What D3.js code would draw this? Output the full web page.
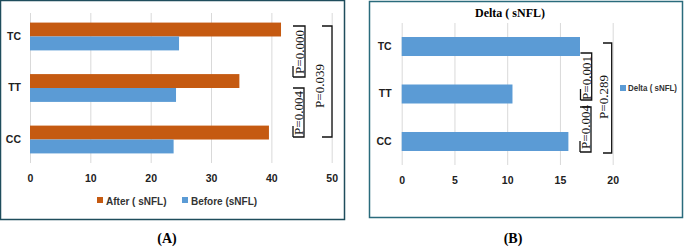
<!DOCTYPE html>
<html>
<head>
<meta charset="utf-8">
<script src="https://cdn.jsdelivr.net/npm/d3@7"></script>
<style>
  body { margin: 0; background: #fff; }
  svg text { font-family: "Liberation Sans", Arial, sans-serif; }
  .tick text { font-weight: bold; font-size: 10.5px; fill: #222; }
  .serif { font-family: "Liberation Serif", "Times New Roman", serif !important; }
</style>
</head>
<body>
<div id="here"></div>
<script>
// DATA
const categories = ["TC", "TT", "CC"];
const afterVals = [41.6, 34.7, 39.6];
const beforeVals = [24.7, 24.2, 23.8];
const deltaVals = [16.9, 10.5, 15.8];
const ticksA = [0, 10, 20, 30, 40, 50];
const ticksB = [0, 5, 10, 15, 20];
const pLabelsA = ["P=0.000", "P=0.004", "P=0.039"];
const pLabelsB = ["P=0.001", "P=0.004", "P=0.289"];

const orange = "#c55a11";
const blue = "#5b9bd5";
const grid = "#d9d9d9";

const svg = d3.select("#here").append("svg")
  .attr("width", 685)
  .attr("height", 249);

// frames
svg.append("rect").attr("x", 0.5).attr("y", 0.5).attr("width", 344).attr("height", 219)
  .attr("fill", "none").attr("stroke", "#1f4d5c").attr("stroke-width", 1.5);
svg.append("rect").attr("x", 369.5).attr("y", 1.5).attr("width", 313).attr("height", 216)
  .attr("fill", "none").attr("stroke", "#2a6b7c").attr("stroke-width", 1.5);

// draws a "]" style bracket with its p-value rotated alongside
function bracket(g, xr, xl, y0, y1, label, tx, ty, leftPart) {
  g.append("path")
    .attr("d", `M${xl},${y0}H${xr}V${y1}H${xl}`)
    .attr("fill", "none").attr("stroke", "#111").attr("stroke-width", 1.3);
  if (leftPart) {
    g.append("path")
      .attr("d", `M${xl},${y1 - 11}V${y1}`)
      .attr("fill", "none").attr("stroke", "#111").attr("stroke-width", 1.3);
  }
  g.append("text")
    .attr("class", "serif")
    .attr("transform", `translate(${tx},${ty}) rotate(-90)`)
    .attr("text-anchor", "middle")
    .attr("dy", "0.35em")
    .attr("font-size", 13)
    .attr("fill", "#111")
    .text(label);
}

// ---------- PANEL A ----------
const xA = d3.scaleLinear().domain([0, 50]).range([30, 331.7]);
const yA = d3.scaleBand().domain(categories).range([13, 163])
  .paddingInner(0.46).paddingOuter(0.186);

const gA = svg.append("g");
gA.append("g")
  .attr("transform", "translate(0,163)")
  .call(d3.axisBottom(xA).tickValues(ticksA).tickSize(-150).tickPadding(12))
  .call(g => g.select(".domain").remove())
  .call(g => g.selectAll(".tick line").attr("stroke", grid));
gA.append("g")
  .attr("transform", "translate(30,0)")
  .call(d3.axisLeft(yA).tickSize(0).tickPadding(9))
  .call(g => g.select(".domain").remove());

const half = yA.bandwidth() / 2;
gA.selectAll("rect.after").data(afterVals).enter().append("rect")
  .attr("class", "after")
  .attr("x", xA(0))
  .attr("y", (d, i) => yA(categories[i]))
  .attr("width", d => xA(d) - xA(0))
  .attr("height", half)
  .attr("fill", orange);
gA.selectAll("rect.before").data(beforeVals).enter().append("rect")
  .attr("class", "before")
  .attr("x", xA(0))
  .attr("y", (d, i) => yA(categories[i]) + half)
  .attr("width", d => xA(d) - xA(0))
  .attr("height", half)
  .attr("fill", blue);

bracket(gA, 305, 293, 26, 77, pLabelsA[0], 299.5, 52, true);
bracket(gA, 304, 293, 88, 137, pLabelsA[1], 298.5, 113, true);
bracket(gA, 332, 322, 26, 137, pLabelsA[2], 319, 86, false);

// legend A
const legA = [["After ( sNFL)", orange, 97], ["Before (sNFL)", blue, 182]];
legA.forEach(l => {
  gA.append("rect").attr("x", l[2]).attr("y", 197).attr("width", 6).attr("height", 6).attr("fill", l[1]);
  gA.append("text").attr("x", l[2] + 9).attr("y", 201).attr("dy", "0.35em")
    .attr("font-size", 10).attr("font-weight", "bold").attr("fill", "#333").text(l[0]);
});
svg.append("text").attr("class", "serif").attr("x", 167).attr("y", 238).attr("dy", "0.35em")
  .attr("text-anchor", "middle").attr("font-size", 14).attr("font-weight", "bold").text("(A)");

// ---------- PANEL B ----------
const xB = d3.scaleLinear().domain([0, 20]).range([401.7, 612.7]);
const yB = d3.scaleBand().domain(categories).range([23, 165])
  .paddingInner(0.6).paddingOuter(0.295);

const gB = svg.append("g");
gB.append("text").attr("class", "serif").attr("x", 510).attr("y", 13).attr("dy", "0.35em")
  .attr("text-anchor", "middle").attr("font-size", 12).attr("font-weight", "bold").text("Delta ( sNFL)");
gB.append("g")
  .attr("transform", "translate(0,165)")
  .call(d3.axisBottom(xB).tickValues(ticksB).tickSize(-142).tickPadding(12))
  .call(g => g.select(".domain").remove())
  .call(g => g.selectAll(".tick line").attr("stroke", grid));
gB.append("g")
  .attr("transform", "translate(401.7,0)")
  .call(d3.axisLeft(yB).tickSize(0).tickPadding(10))
  .call(g => g.select(".domain").remove());

gB.selectAll("rect.delta").data(deltaVals).enter().append("rect")
  .attr("class", "delta")
  .attr("x", xB(0))
  .attr("y", (d, i) => yB(categories[i]))
  .attr("width", d => xB(d) - xB(0))
  .attr("height", yB.bandwidth())
  .attr("fill", blue);

bracket(gB, 591.7, 580.5, 53, 100, pLabelsB[0], 586.5, 78, true);
bracket(gB, 591, 580, 107, 152, pLabelsB[1], 585.5, 127, true);
bracket(gB, 611.7, 603, 43, 153, pLabelsB[2], 603, 97, false);

// legend B
gB.append("rect").attr("x", 620).attr("y", 85).attr("width", 6).attr("height", 6).attr("fill", blue);
gB.append("text").attr("x", 628).attr("y", 88).attr("dy", "0.35em")
  .attr("font-size", 8.5).attr("font-weight", "bold").attr("fill", "#333")
  .attr("textLength", 49).attr("lengthAdjust", "spacingAndGlyphs")
  .text("Delta ( sNFL)");
svg.append("text").attr("class", "serif").attr("x", 513).attr("y", 238).attr("dy", "0.35em")
  .attr("text-anchor", "middle").attr("font-size", 14).attr("font-weight", "bold").text("(B)");
</script>
</body>
</html>
